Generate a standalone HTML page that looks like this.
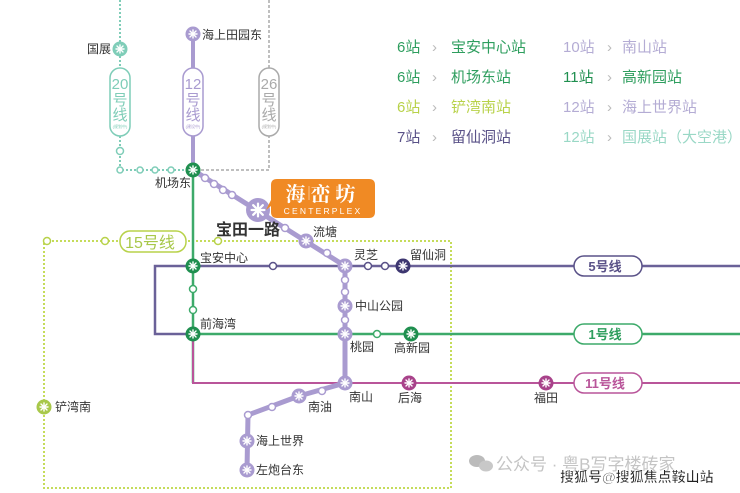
<!DOCTYPE html>
<html><head><meta charset="utf-8"><style>
html,body{margin:0;padding:0;background:#fff;}
svg{display:block;font-family:"Liberation Sans","Noto Sans CJK SC",sans-serif;}
</style></head><body>
<svg width="740" height="493" viewBox="0 0 740 493" xmlns="http://www.w3.org/2000/svg">
<defs>
<g id="m" stroke="#fff" stroke-width="1.4" stroke-linecap="round" fill="none">
<line x1="-4" y1="0" x2="4" y2="0"/><line x1="0" y1="-4" x2="0" y2="4"/>
<line x1="-3" y1="-3" x2="3" y2="3"/><line x1="-3" y1="3" x2="3" y2="-3"/>
</g>
</defs>
<rect width="740" height="493" fill="#fff"/>
<rect x="44" y="241" width="407" height="247" fill="none" stroke="#c5dc5a" stroke-width="2" stroke-dasharray="2,2"/>
<path d="M120 0 V170 H193" fill="none" stroke="#7fcdb8" stroke-width="2" stroke-dasharray="2,2"/>
<path d="M269 0 V170 H193" fill="none" stroke="#aaa" stroke-width="1.5" stroke-dasharray="3,2"/>
<line x1="193" y1="34" x2="193" y2="170" stroke="#a99bd0" stroke-width="4"/>
<path d="M740 266 H155 V334 H193" fill="none" stroke="#6a6198" stroke-width="2.5"/>
<line x1="193" y1="170" x2="193" y2="383" stroke="#3daa6a" stroke-width="2.5"/>
<line x1="193" y1="334" x2="740" y2="334" stroke="#3daa6a" stroke-width="2.5"/>
<path d="M193 334 V383 H740" fill="none" stroke="#b9559a" stroke-width="2"/>
<polyline points="193,170 345,266 345,383 299,396 248,415 247,470" fill="none" stroke="#a99bd0" stroke-width="5" stroke-linejoin="round"/>
<g fill="#fff" stroke-width="1.5">
<rect x="110" y="68" width="20" height="68" rx="10" stroke="#7fcdb8"/>
<rect x="183" y="68" width="20" height="68" rx="10" stroke="#a99bd0"/>
<rect x="259" y="68" width="20" height="68" rx="10" stroke="#aaa"/>
<rect x="120" y="231" width="66" height="21" rx="10" stroke="#b8d24a"/>
<rect x="574" y="256" width="68" height="20" rx="10" stroke="#5a5288"/>
<rect x="574" y="324" width="68" height="20" rx="10" stroke="#3daa6a"/>
<rect x="574" y="373" width="68" height="20" rx="10" stroke="#b9559a"/>
</g>
<g font-size="15" text-anchor="middle">
<text x="120" y="89" fill="#7fcdb8">20</text><text x="120" y="105" fill="#7fcdb8">号</text><text x="120" y="120" fill="#7fcdb8">线</text>
<text x="193" y="89" fill="#a99bd0">12</text><text x="193" y="105" fill="#a99bd0">号</text><text x="193" y="120" fill="#a99bd0">线</text>
<text x="269" y="89" fill="#aaa">26</text><text x="269" y="105" fill="#aaa">号</text><text x="269" y="120" fill="#aaa">线</text>
<text x="150" y="248" font-size="16" fill="#a8c84a">15号线</text>
<text x="605" y="271" font-size="13" font-weight="bold" fill="#5a5288">5号线</text>
<text x="605" y="339" font-size="13" font-weight="bold" fill="#2e9e5e">1号线</text>
<text x="605" y="388" font-size="13" font-weight="bold" fill="#b9559a">11号线</text>
</g>
<g font-size="4" text-anchor="middle"><text x="120" y="128" fill="#7fcdb8">(规划中)</text><text x="193" y="128" fill="#a99bd0">(建设中)</text><text x="269" y="128" fill="#aaa">(规划中)</text></g>
<g fill="#fff" stroke-width="1.5">
<g stroke="#7fcdb8"><circle cx="120" cy="151" r="3.5"/><circle cx="120" cy="170" r="3"/><circle cx="140" cy="170" r="3"/><circle cx="155" cy="170" r="3"/><circle cx="171" cy="170" r="3"/></g>
<g stroke="#a99bd0"><circle cx="205" cy="178" r="3.5"/><circle cx="214" cy="184" r="3.5"/><circle cx="223" cy="190" r="3.5"/><circle cx="232" cy="195" r="3.5"/><circle cx="285" cy="228" r="3.5"/><circle cx="327" cy="253" r="3.5"/><circle cx="345" cy="280" r="3.5"/><circle cx="345" cy="292" r="3.5"/><circle cx="345" cy="320" r="3.5"/><circle cx="322" cy="391" r="3.5"/><circle cx="272" cy="407" r="3.5"/><circle cx="248" cy="415" r="3.5"/></g>
<g stroke="#5a5288"><circle cx="273" cy="266" r="3.5"/><circle cx="368" cy="266" r="3.5"/><circle cx="385" cy="266" r="3.5"/></g>
<g stroke="#3daa6a"><circle cx="193" cy="289" r="3.5"/><circle cx="193" cy="310" r="3.5"/><circle cx="377" cy="334" r="3.5"/></g>
<g stroke="#b8d24a"><circle cx="47" cy="241" r="3.5"/><circle cx="105" cy="241" r="3.5"/><circle cx="218" cy="241" r="3.5"/></g>
</g>
<g>
<circle cx="120" cy="49" r="7.5" fill="#7fcdb8"/><use href="#m" x="120" y="49"/>
<circle cx="193" cy="34" r="7.5" fill="#a99bd0"/><use href="#m" x="193" y="34"/>
<circle cx="193" cy="170" r="7.5" fill="#1f8f4f"/><use href="#m" x="193" y="170"/>
<circle cx="258" cy="210" r="12" fill="#a99bd0"/><g transform="translate(258 210) scale(1.6)"><use href="#m"/></g>
<circle cx="306" cy="241" r="7.5" fill="#a99bd0"/><use href="#m" x="306" y="241"/>
<circle cx="345" cy="266" r="7.5" fill="#a99bd0"/><use href="#m" x="345" y="266"/>
<circle cx="345" cy="306" r="7.5" fill="#a99bd0"/><use href="#m" x="345" y="306"/>
<circle cx="345" cy="334" r="7.5" fill="#a99bd0"/><use href="#m" x="345" y="334"/>
<circle cx="345" cy="383" r="7.5" fill="#a99bd0"/><use href="#m" x="345" y="383"/>
<circle cx="299" cy="396" r="7.5" fill="#a99bd0"/><use href="#m" x="299" y="396"/>
<circle cx="247" cy="441" r="7.5" fill="#a99bd0"/><use href="#m" x="247" y="441"/>
<circle cx="247" cy="470" r="7.5" fill="#a99bd0"/><use href="#m" x="247" y="470"/>
<circle cx="193" cy="266" r="7.5" fill="#1f8f4f"/><use href="#m" x="193" y="266"/>
<circle cx="193" cy="334" r="7.5" fill="#1f8f4f"/><use href="#m" x="193" y="334"/>
<circle cx="403" cy="266" r="7.5" fill="#3d3670"/><use href="#m" x="403" y="266"/>
<circle cx="411" cy="334" r="7.5" fill="#1f8f4f"/><use href="#m" x="411" y="334"/>
<circle cx="409" cy="383" r="7.5" fill="#a8428a"/><use href="#m" x="409" y="383"/>
<circle cx="546" cy="383" r="7.5" fill="#a8428a"/><use href="#m" x="546" y="383"/>
<circle cx="44" cy="407" r="7.5" fill="#a8c84a"/><use href="#m" x="44" y="407"/>
</g>
<path d="M271 185 Q271 179 277 179 H369 Q375 179 375 185 V212 Q375 218 369 218 H277 Q271 218 271 212 V206 L266 210 L271 200 Z" fill="#f08a24"/>
<text x="323" y="201" text-anchor="middle" fill="#fff" font-size="20" font-weight="bold" font-family="'Noto Serif CJK SC',serif" letter-spacing="5">海峦坊</text>
<g stroke="#fff" stroke-width="0.6" opacity="0.8"><line x1="309" y1="186" x2="309" y2="200"/><line x1="337" y1="186" x2="337" y2="200"/></g>
<text x="323" y="214" text-anchor="middle" fill="#fff" font-size="8.5" letter-spacing="2.2">CENTERPLEX</text>
<g font-size="12" fill="#333">
<text x="87" y="53">国展</text>
<text x="202" y="39">海上田园东</text>
<text x="155" y="187">机场东</text>
<text x="313" y="236">流塘</text>
<text x="200" y="262">宝安中心</text>
<text x="354" y="259">灵芝</text>
<text x="410" y="259">留仙洞</text>
<text x="355" y="310">中山公园</text>
<text x="200" y="328">前海湾</text>
<text x="350" y="351">桃园</text>
<text x="394" y="352">高新园</text>
<text x="349" y="401">南山</text>
<text x="398" y="402">后海</text>
<text x="534" y="402">福田</text>
<text x="308" y="411">南油</text>
<text x="256" y="445">海上世界</text>
<text x="256" y="474">左炮台东</text>
<text x="55" y="411">铲湾南</text>
</g>
<text x="216" y="235" font-size="16" font-weight="bold" fill="#333">宝田一路</text>
<g font-size="15">
<text x="397" y="52" fill="#2e9e5e">6站</text><text x="432" y="52" fill="#bbb">›</text><text x="451" y="52" fill="#2e9e5e">宝安中心站</text>
<text x="397" y="82" fill="#2e9e5e">6站</text><text x="432" y="82" fill="#bbb">›</text><text x="451" y="82" fill="#2e9e5e">机场东站</text>
<text x="397" y="112" fill="#b8d24a">6站</text><text x="432" y="112" fill="#bbb">›</text><text x="451" y="112" fill="#b8d24a">铲湾南站</text>
<text x="397" y="142" fill="#5a5288">7站</text><text x="432" y="142" fill="#bbb">›</text><text x="451" y="142" fill="#5a5288">留仙洞站</text>
<text x="563" y="52" fill="#b4acd4">10站</text><text x="607" y="52" fill="#bbb">›</text><text x="622" y="52" fill="#b4acd4">南山站</text>
<text x="563" y="82" fill="#1f8f4f">11站</text><text x="607" y="82" fill="#bbb">›</text><text x="622" y="82" fill="#2e9e5e">高新园站</text>
<text x="563" y="112" fill="#b4acd4">12站</text><text x="607" y="112" fill="#bbb">›</text><text x="622" y="112" fill="#b4acd4">海上世界站</text>
<text x="563" y="142" fill="#9ad8c6">12站</text><text x="607" y="142" fill="#bbb">›</text><text x="622" y="142" fill="#9ad8c6">国展站（大空港）</text>
</g>
<ellipse cx="477" cy="461" rx="8" ry="6" fill="#bbb"/><ellipse cx="486" cy="466" rx="7" ry="5.5" fill="#c8c8c8"/>
<text x="496" y="470" font-size="17" fill="#c4c4c4">公众号 · 粤B写字楼砖家</text>
<text x="560" y="482" font-size="14" font-weight="bold" fill="#222" stroke="#fff" stroke-width="0.6">搜狐号@搜狐焦点鞍山站</text>
</svg>
</body></html>
